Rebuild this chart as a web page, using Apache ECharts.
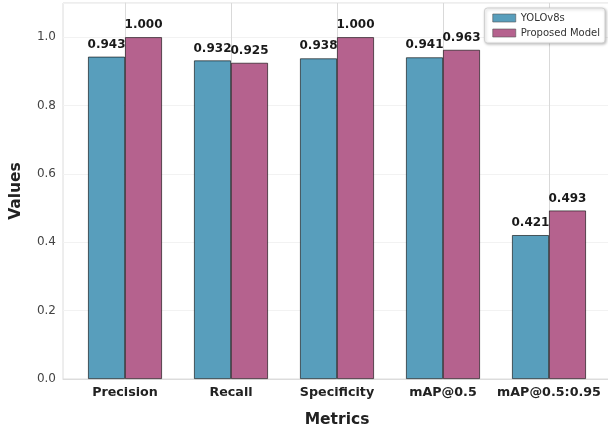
<!DOCTYPE html>
<html>
<head>
<meta charset="utf-8">
<script src="https://cdn.jsdelivr.net/npm/echarts@6/dist/echarts.min.js"></script>
<style>html,body{margin:0;padding:0;background:#fff;}#c{width:608px;height:430px;}</style>
</head>
<body>
<div id="c"></div>
<script>
const categories = ['Precision', 'Recall', 'Specificity', 'mAP@0.5', 'mAP@0.5:0.95'];
const yoloValues = [0.943, 0.932, 0.938, 0.941, 0.421];
const proposedValues = [1.000, 0.925, 1.000, 0.963, 0.493];
const seriesNames = ['YOLOv8s', 'Proposed Model'];
const yTicks = [0, 0.2, 0.4, 0.6, 0.8, 1.0];

const FONT = 'DejaVu Sans';
const chart = echarts.init(document.getElementById('c'), null, {renderer: 'canvas'});
const pts = arr => arr.map((v, i) => [i, v]);
const labelCfg = {
  show: true, position: 'top', distance: 6,
  fontFamily: FONT, fontWeight: 'bold', fontSize: 12, color: '#1a1a1a',
  formatter: p => p.value[1].toFixed(3)
};
chart.setOption({
  animation: false,
  grid: {left: 63, top: 3, width: 548, height: 376, show: true, borderColor: '#dcdcdc', borderWidth: 1,
    containLabel: false, outerBoundsMode: 'none'},
  legend: {
    orient: 'vertical', right: 3, top: 8,
    icon: 'rect',
    itemWidth: 23, itemHeight: 8, itemGap: 5,
    padding: [5, 5, 5, 8],
    backgroundColor: '#fff', borderColor: '#d0d0d0', borderWidth: 1, borderRadius: 3,
    shadowColor: 'rgba(0,0,0,0.25)', shadowBlur: 3, shadowOffsetX: 1, shadowOffsetY: 1,
    itemStyle: {borderWidth: 0.6, borderColor: '#555'},
    textStyle: {fontFamily: FONT, fontSize: 10, color: '#333'},
    data: seriesNames
  },
  xAxis: {
    type: 'value', min: -0.585, max: 4.585,
    name: 'Metrics', nameLocation: 'middle', nameGap: 33,
    nameTextStyle: {fontFamily: FONT, fontWeight: 'bold', fontSize: 15.5, color: '#222'},
    axisLine: {show: true, lineStyle: {color: '#dcdcdc'}},
    axisTick: {show: false, customValues: [0, 1, 2, 3, 4]},
    axisLabel: {customValues: [0, 1, 2, 3, 4], formatter: v => categories[Math.round(v)],
      fontFamily: FONT, fontWeight: 'bold', fontSize: 12.7, color: '#222', margin: 7},
    splitLine: {show: true, lineStyle: {color: '#d9d9d9', width: 1}}
  },
  yAxis: {
    type: 'value', min: 0, max: 1.1, interval: 0.2,
    name: 'Values', nameLocation: 'middle', nameGap: 39,
    nameTextStyle: {fontFamily: FONT, fontWeight: 'bold', fontSize: 15.5, color: '#222'},
    axisLine: {show: true, lineStyle: {color: '#dcdcdc'}},
    axisTick: {show: false},
    axisLabel: {fontFamily: FONT, fontSize: 12, color: '#444', margin: 7, showMaxLabel: false,
      formatter: v => yTicks.some(t => Math.abs(t - v) < 1e-6) ? v.toFixed(1) : ''},
    splitLine: {show: true, lineStyle: {color: '#f2f2f2', width: 1}}
  },
  series: [
    {name: seriesNames[0], type: 'bar', data: pts(yoloValues), barWidth: 37, barGap: '0%',
      itemStyle: {color: '#589ebc', borderColor: 'rgba(0,0,0,0.75)', borderWidth: 0.8},
      label: labelCfg},
    {name: seriesNames[1], type: 'bar', data: pts(proposedValues), barWidth: 37, barGap: '0%',
      itemStyle: {color: '#b5628e', borderColor: 'rgba(0,0,0,0.75)', borderWidth: 0.8},
      label: labelCfg}
  ]
});
</script>
</body>
</html>
